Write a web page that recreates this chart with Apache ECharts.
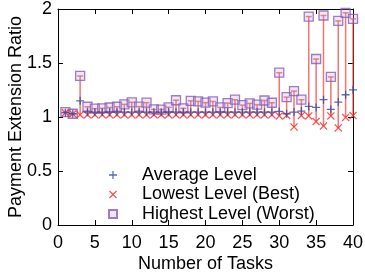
<!DOCTYPE html>
<html>
<head>
<meta charset="utf-8">
<script src="https://cdn.jsdelivr.net/npm/echarts@6/dist/echarts.min.js"></script>
<style>
html,body{margin:0;padding:0;background:#fff;}
#chart{width:365px;height:273px;}
</style>
</head>
<body>
<div id="chart"></div>
<script>
var tasks = [1,2,3,4,5,6,7,8,9,10,11,12,13,14,15,16,17,18,19,20,21,22,23,24,25,26,27,28,29,30,31,32,33,34,35,36,37,38,39,40];
var avgLevel = [1.04,1.03,1.15,1.045,1.045,1.045,1.045,1.045,1.045,1.045,1.045,1.045,1.045,1.045,1.045,1.045,1.045,1.045,1.045,1.045,1.045,1.045,1.045,1.045,1.045,1.045,1.045,1.045,1.045,1.052,1.03,1.046,1.055,1.098,1.089,1.16,1.07,1.138,1.206,1.252];
var lowLevel = [1.04,1.03,1.02,1.02,1.02,1.02,1.02,1.02,1.02,1.02,1.02,1.02,1.02,1.02,1.02,1.02,1.02,1.02,1.02,1.02,1.02,1.02,1.02,1.02,1.02,1.02,1.02,1.02,1.02,1.01,1.015,0.908,1.013,1.01,0.958,0.917,1.01,0.899,0.996,1.013];
var highLevel = [1.045,1.03,1.38,1.095,1.077,1.08,1.088,1.095,1.117,1.136,1.096,1.133,1.07,1.069,1.09,1.155,1.08,1.15,1.145,1.133,1.144,1.089,1.129,1.16,1.11,1.126,1.114,1.153,1.132,1.41,1.184,1.24,1.16,1.93,1.537,1.94,1.371,1.89,1.965,1.909];
var xTicks = [0,5,10,15,20,25,30,35,40];
var yTicks = [0,0.5,1,1.5,2];

var FONT = '"Liberation Sans", Arial, Helvetica, sans-serif';
var plusPath = 'path://M4.2,0H5.8V4.2H10V5.8H5.8V10H4.2V5.8H0V4.2H4.2Z';
var crossPath = 'path://M0,1.1L1.1,0L5,3.9L8.9,0L10,1.1L6.1,5L10,8.9L8.9,10L5,6.1L1.1,10L0,8.9L3.9,5Z';

var avgData = tasks.map(function(t,i){return [t, avgLevel[i]];});
var lowData = tasks.map(function(t,i){return [t, lowLevel[i]];});
var highData = tasks.map(function(t,i){return [t, highLevel[i]];});
var barData = tasks.map(function(t,i){return [t, lowLevel[i], highLevel[i]];});

var chart = echarts.init(document.getElementById('chart'), null, {renderer:'canvas'});
var axisCommon = {
  axisLine:{show:true, onZero:false, lineStyle:{color:'#000', width:1}},
  axisTick:{show:true, inside:true, length:5, lineStyle:{color:'#000', width:1}},
  splitLine:{show:false}
};
chart.setOption({
  animation:false,
  backgroundColor:'#fff',
  grid:{left:58, right:12, top:9, bottom:48, containLabel:false, outerBoundsMode:'none'},
  textStyle:{fontFamily:FONT},
  xAxis:[
    Object.assign({type:'value', min:xTicks[0], max:xTicks[xTicks.length-1], interval:5, position:'bottom',
      name:'Number of Tasks', nameLocation:'middle', nameGap:30, nameMoveOverlap:false,
      nameTextStyle:{fontSize:18, color:'#000', fontFamily:FONT},
      axisLabel:{fontSize:18, color:'#000', margin:9, fontFamily:FONT}}, axisCommon),
    Object.assign({type:'value', min:xTicks[0], max:xTicks[xTicks.length-1], interval:5, position:'top',
      axisLabel:{show:false}}, axisCommon)
  ],
  yAxis:[
    Object.assign({type:'value', min:yTicks[0], max:yTicks[yTicks.length-1], interval:0.5, position:'left',
      name:'Payment Extension Ratio', nameLocation:'middle', nameGap:33, nameRotate:90, nameMoveOverlap:false,
      nameTextStyle:{fontSize:18, color:'#000', fontFamily:FONT},
      axisLabel:{fontSize:18, color:'#000', margin:6, fontFamily:FONT}}, axisCommon),
    Object.assign({type:'value', min:yTicks[0], max:yTicks[yTicks.length-1], interval:0.5, position:'right',
      axisLabel:{show:false}}, axisCommon)
  ],
  legend:{
    orient:'vertical', left:103, top:161, itemGap:1.5, itemWidth:8, itemHeight:8,
    textStyle:{fontSize:18, color:'#000', fontFamily:FONT, padding:[0,0,0,20]},
    data:[
      {name:'Average Level', icon:plusPath},
      {name:'Lowest Level (Best)', icon:crossPath},
      {name:'Highest Level (Worst)', icon:'rect'}
    ]
  },
  series:[
    {
      type:'custom', name:'range', xAxisIndex:0, yAxisIndex:0, silent:true,
      data:barData,
      encode:{x:0, y:[1,2]},
      renderItem:function(params, api){
        var x = api.value(0);
        var p1 = api.coord([x, api.value(1)]);
        var p2 = api.coord([x, api.value(2)]);
        var st = {stroke:'rgba(240,70,70,0.75)', lineWidth:1.5};
        return {type:'group', children:[
          {type:'line', shape:{x1:p1[0], y1:p1[1], x2:p2[0], y2:p2[1]}, style:st},
          {type:'line', shape:{x1:p2[0]-3, y1:p2[1], x2:p2[0]+3, y2:p2[1]}, style:st}
        ]};
      },
      z:1
    },
    {
      type:'scatter', name:'Highest Level (Worst)', data:highData,
      symbol:'rect', symbolSize:9,
      itemStyle:{color:'rgba(190,170,225,0.35)', borderColor:'#8a5cb4', borderWidth:1.3},
      z:2
    },
    {
      type:'scatter', name:'Lowest Level (Best)', data:lowData,
      symbol:crossPath, symbolSize:8,
      itemStyle:{color:'#ff2424'},
      z:3
    },
    {
      type:'scatter', name:'Average Level', data:avgData,
      symbol:plusPath, symbolSize:8,
      itemStyle:{color:'#2d4aa0'},
      z:4
    }
  ]
});
</script>
</body>
</html>
